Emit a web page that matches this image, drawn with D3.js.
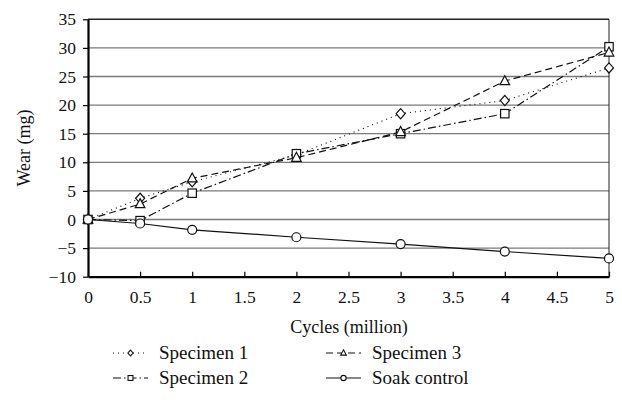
<!DOCTYPE html>
<html>
<head>
<meta charset="utf-8">
<script src="https://cdn.jsdelivr.net/npm/d3@7"></script>
<style>
  body { margin: 0; background: #fff; }
</style>
</head>
<body>
<div id="chart"></div>
<script>
// values
var cycles = [0, 0.5, 1, 2, 3, 4, 5];
var specimen1 = [0, 3.7, 6.6, 11.3, 18.5, 20.8, 26.5];
var specimen2 = [0, -0.2, 4.6, 11.5, 15.0, 18.5, 30.2];
var specimen3 = [0, 2.7, 7.2, 10.8, 15.3, 24.2, 29.2];
var soakControl = [0, -0.7, -1.8, -3.1, -4.3, -5.6, -6.8];
var xTicks = [0, 0.5, 1, 1.5, 2, 2.5, 3, 3.5, 4, 4.5, 5];
var yTicks = [-10, -5, 0, 5, 10, 15, 20, 25, 30, 35];

var serif = "Liberation Serif";

var series = [
  {name: "Specimen 1", values: specimen1, dash: "1,4", marker: "diamond"},
  {name: "Specimen 2", values: specimen2, dash: "8,3,1.5,3", marker: "square"},
  {name: "Specimen 3", values: specimen3, dash: "7,4", marker: "triangle"},
  {name: "Soak control", values: soakControl, dash: null, marker: "circle"}
];

var width = 622, height = 411;
var x = d3.scaleLinear().domain([0, 5]).range([88, 609]);
var y = d3.scaleLinear().domain([-10, 35]).range([276.7, 19.3]);

var svg = d3.select("#chart").append("svg")
    .attr("width", width)
    .attr("height", height);

// gridlines
svg.selectAll("line.grid")
    .data(yTicks.filter(function(d){ return d > -10 && d < 35; }))
    .enter()
    .append("line")
    .attr("class", "grid")
    .attr("x1", x(0)).attr("x2", x(5))
    .attr("y1", function(d){ return y(d); })
    .attr("y2", function(d){ return y(d); })
    .attr("stroke", "#7a7a7a")
    .attr("stroke-width", 1.3);

// frame: top and right
svg.append("line").attr("x1", x(0)).attr("x2", x(5)).attr("y1", y(35)).attr("y2", y(35))
    .attr("stroke", "#222").attr("stroke-width", 1.5);
svg.append("line").attr("x1", x(5)).attr("x2", x(5)).attr("y1", y(35)).attr("y2", y(-10))
    .attr("stroke", "#222").attr("stroke-width", 1);

// axes
var xAxis = svg.append("g")
    .attr("transform", "translate(0," + y(-10) + ")")
    .call(d3.axisBottom(x).tickValues(xTicks).tickSizeInner(-5).tickSizeOuter(0)
        .tickFormat(d3.format("")));
var yAxis = svg.append("g")
    .attr("transform", "translate(" + x(0) + ",0)")
    .call(d3.axisLeft(y).tickValues(yTicks).tickSizeInner(5).tickSizeOuter(0)
        .tickFormat(function(d){ return d < 0 ? "\u2212" + Math.abs(d) : d; }));

[xAxis, yAxis].forEach(function(a){
  a.select(".domain").attr("stroke", "#000").attr("stroke-width", 2.2);
  a.selectAll(".tick line").attr("stroke", "#000").attr("stroke-width", 1.2);
  a.selectAll(".tick text")
      .attr("fill", "#111")
      .attr("font-family", serif)
      .attr("font-size", 17.5);
});
xAxis.selectAll(".tick text").attr("dy", null).attr("y", 26);
yAxis.selectAll(".tick text").attr("x", -12);

// axis titles
svg.append("text")
    .attr("x", 349).attr("y", 333)
    .attr("text-anchor", "middle")
    .attr("font-family", serif)
    .attr("font-size", 18)
    .attr("fill", "#111")
    .text("Cycles (million)");
svg.append("text")
    .attr("transform", "translate(30," + y(12.5) + ") rotate(-90)")
    .attr("text-anchor", "middle")
    .attr("font-family", serif)
    .attr("font-size", 18)
    .attr("fill", "#111")
    .text("Wear (mg)");

function drawMarker(g, type, cx, cy, s) {
  if (type === "circle") {
    g.append("circle").attr("cx", cx).attr("cy", cy).attr("r", s * 0.75);
  } else if (type === "square") {
    g.append("rect").attr("x", cx - s * 0.7).attr("y", cy - s * 0.7)
        .attr("width", s * 1.4).attr("height", s * 1.4);
  } else if (type === "diamond") {
    g.append("path").attr("d", "M" + cx + "," + (cy - s * 0.85) + "L" + (cx + s * 0.75) + "," + cy +
        "L" + cx + "," + (cy + s * 0.85) + "L" + (cx - s * 0.75) + "," + cy + "Z");
  } else if (type === "triangle") {
    g.append("path").attr("d", "M" + cx + "," + (cy - s * 0.9) + "L" + (cx + s * 0.8) + "," + (cy + s * 0.6) +
        "L" + (cx - s * 0.8) + "," + (cy + s * 0.6) + "Z");
  }
}

var line = d3.line()
    .x(function(d, i){ return x(cycles[i]); })
    .y(function(d){ return y(d); });

series.forEach(function(s){
  svg.append("path")
      .datum(s.values)
      .attr("d", line)
      .attr("fill", "none")
      .attr("stroke", "#111")
      .attr("stroke-width", 1.2)
      .attr("stroke-dasharray", s.dash);
  var g = svg.append("g").attr("fill", "#fff").attr("stroke", "#111").attr("stroke-width", 1.2);
  s.values.forEach(function(v, i){
    drawMarker(g, s.marker, x(cycles[i]), y(v), 6);
  });
});

// legend
var legendPos = [
  {lx: 113, ly: 353},
  {lx: 113, ly: 378},
  {lx: 326, ly: 353},
  {lx: 326, ly: 378}
];
series.forEach(function(s, i){
  var p = legendPos[i];
  var g = svg.append("g");
  g.append("line")
      .attr("x1", p.lx).attr("x2", p.lx + 35)
      .attr("y1", p.ly).attr("y2", p.ly)
      .attr("stroke", "#111").attr("stroke-width", 1.2)
      .attr("stroke-dasharray", s.dash);
  var m = g.append("g").attr("fill", "#fff").attr("stroke", "#111").attr("stroke-width", 1.1);
  drawMarker(m, s.marker, p.lx + 17.5, p.ly, 3.5);
  g.append("text")
      .attr("x", p.lx + 46).attr("y", p.ly + 6)
      .attr("font-family", serif)
      .attr("font-size", 19)
      .attr("fill", "#111")
      .text(s.name);
});
</script>
</body>
</html>
